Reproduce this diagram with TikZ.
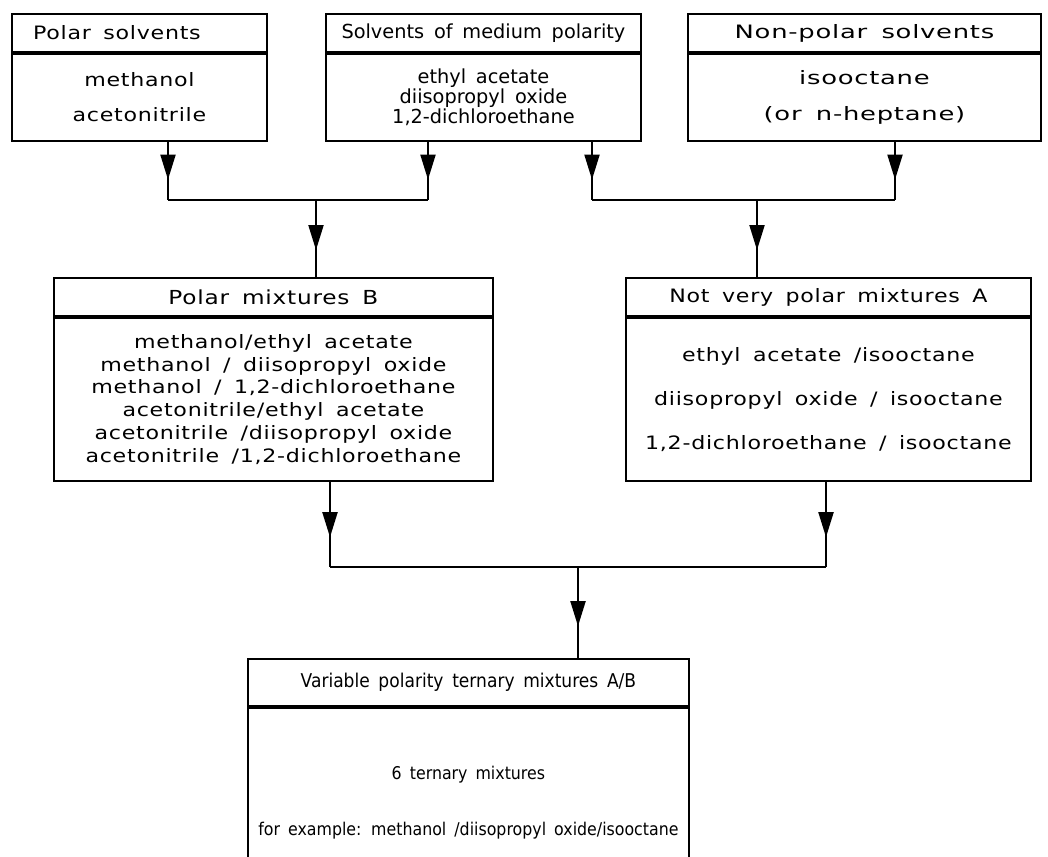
\documentclass[tikz,border=0pt]{standalone}
\usepackage{fontspec}
\setmainfont{DejaVu Sans}[FakeStretch=1.2,LetterSpace=4,WordSpace=1.6]
\newfontfamily\plainfont{DejaVu Sans}[WordSpace=1.6]
\newfontfamily\widefont{DejaVu Sans}[FakeStretch=1.4,LetterSpace=4,WordSpace=1.6]
\newfontfamily\narrowfont{DejaVu Sans}[FakeStretch=0.9,WordSpace=1.6]
\newcommand{\boxfont}[2]{\fontsize{#1}{#2}\selectfont}
\usetikzlibrary{arrows.meta,decorations.markings}
\tikzset{
  titlebox/.style={draw,line width=1.1pt,minimum height=0.76cm,inner sep=0pt,anchor=north west},
  bodybox/.style={draw,line width=1.1pt,inner sep=0pt,align=center,anchor=north},
  link/.style={line width=1.1pt},
  flow/.style={link,postaction={decorate},decoration={markings,mark=at position 0.65 with {\arrow{Triangle[length=0.5cm,width=0.3cm]}}}}
}

\begin{document}
\begin{tikzpicture}[x=0.02cm,y=-0.02cm,font=\boxfont{10.5}{13}]
\clip (0,0) rectangle (1048,856);
% Solvent groups
\node[titlebox,minimum width=5.1cm] (polarT) at (11,13) {Polar solvents\hspace*{0.9cm}};
\node[bodybox,minimum width=5.1cm,minimum height=1.74cm,font=\boxfont{10.5}{20}] (polar) at (polarT.south) {methanol\\acetonitrile};
\node[titlebox,minimum width=6.3cm,font=\plainfont\boxfont{11}{13}] (mediumT) at (325,13) {Solvents of medium polarity};
\node[bodybox,minimum width=6.3cm,minimum height=1.74cm,font=\plainfont\boxfont{11}{11.5}] (medium) at (mediumT.south) {ethyl acetate\\diisopropyl oxide\\1,2-dichloroethane};
\node[titlebox,minimum width=7.06cm,font=\widefont\boxfont{10.5}{13}] (nonpolarT) at (687,13) {Non-polar solvents};
\node[bodybox,minimum width=7.06cm,minimum height=1.74cm,font=\widefont\boxfont{10.5}{21}] (nonpolar) at (nonpolarT.south) {isooctane\\(or n-heptane)};
% Binary mixtures
\node[titlebox,minimum width=8.78cm,font=\boxfont{11}{13}] (mixBT) at (53,277) {Polar mixtures B};
\node[bodybox,minimum width=8.78cm,minimum height=3.26cm,font=\boxfont{10.5}{13}] (mixB) at (mixBT.south) {methanol/ethyl acetate\\methanol / diisopropyl oxide\\methanol / 1,2-dichloroethane\\acetonitrile/ethyl acetate\\acetonitrile /diisopropyl oxide\\acetonitrile /1,2-dichloroethane};
\node[titlebox,minimum width=8.1cm] (mixAT) at (625,277) {Not very polar mixtures A};
\node[bodybox,minimum width=8.1cm,minimum height=3.26cm,font=\boxfont{10.5}{25}] (mixA) at (mixAT.south) {ethyl acetate /isooctane\\diisopropyl oxide / isooctane\\1,2-dichloroethane / isooctane};
% Ternary mixtures
\node[titlebox,minimum width=8.82cm,minimum height=0.94cm,font=\narrowfont\boxfont{10.8}{13}] (ternT) at (247,658) {Variable polarity ternary mixtures A/B};
\node[bodybox,minimum width=8.82cm,minimum height=3.8cm,font=\narrowfont\boxfont{10}{32}] (tern) at (ternT.south) {6 ternary mixtures\\for example: methanol /diisopropyl oxide/isooctane};
% Connectors
\coordinate (j1) at (168,200);
\coordinate (j2) at (428,200);
\coordinate (j3) at (592,200);
\coordinate (j4) at (895,200);
\coordinate (jB) at (316,200);
\coordinate (jA) at (757,200);
\draw[flow] (polar.south -| j1) -- (j1);
\draw[flow] (medium.south -| j2) -- (j2);
\draw[flow] (medium.south -| j3) -- (j3);
\draw[flow] (nonpolar.south -| j4) -- (j4);
\draw[link] (j1) -- (j2);
\draw[link] (j3) -- (j4);
\draw[flow] (jB) -- (jB |- mixBT.north);
\draw[flow] (jA) -- (jA |- mixAT.north);
\coordinate (k1) at (330,567);
\coordinate (k2) at (826,567);
\coordinate (kT) at (578,567);
\draw[flow] (mixB.south -| k1) -- (k1);
\draw[flow] (mixA.south -| k2) -- (k2);
\draw[link] (k1) -- (k2);
\draw[flow] (kT) -- (kT |- ternT.north);
\end{tikzpicture}
\end{document}
